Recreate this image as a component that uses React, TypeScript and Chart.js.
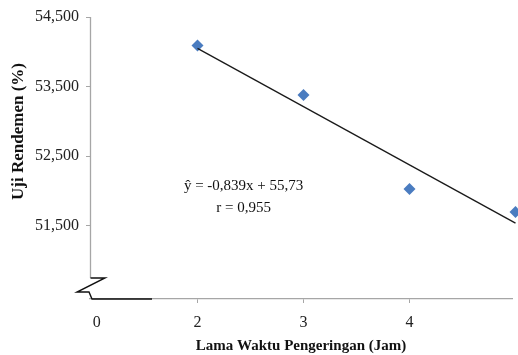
import React, { useEffect, useRef } from "react";
import { Chart, registerables } from "chart.js";

Chart.register(...registerables);

// ---- data ----
const dryingHours = [2, 3, 4, 5];
const yieldValues = [54.09, 53.38, 52.03, 51.7];
const trendHours = [2, 5];
const trendValues = [54.05, 51.54];
const xTickLabels = ["0", "2", "3", "4", "5"];
const xTickValues = [1.05, 2, 3, 4, 5]; // "0" sits just after the axis break
const yTickValues = [51.5, 52.5, 53.5, 54.5];
const equationText = "\u0177 = -0,839x + 55,73";
const rText = "r = 0,955";
const xTitle = "Lama Waktu Pengeringan (Jam)";
const yTitle = "Uji Rendemen (%)";

const SERIF = "'Liberation Serif', 'Times New Roman', serif";
const AXIS_GRAY = "#a6a6a6";

const decorPlugin = {
  id: "decor",
  afterDraw(chart: any) {
    const { ctx, chartArea, scales } = chart;
    const left = chartArea.left;
    const top = chartArea.top;
    const bottom = chartArea.bottom;
    ctx.save();
    // y axis line (broken at the bottom)
    ctx.strokeStyle = AXIS_GRAY;
    ctx.lineWidth = 1.3;
    ctx.beginPath();
    ctx.moveTo(left + 0.5, top);
    ctx.lineTo(left + 0.5, bottom - 21);
    ctx.stroke();
    // break symbol
    ctx.strokeStyle = "#111";
    ctx.lineWidth = 1.4;
    ctx.beginPath();
    ctx.moveTo(left + 0.5, bottom - 21);
    ctx.lineTo(left + 15, bottom - 21);
    ctx.lineTo(left - 13, bottom - 7);
    ctx.lineTo(left - 1, bottom - 7);
    ctx.lineTo(left + 2, bottom);
    ctx.lineTo(left + 62, bottom);
    ctx.stroke();

    // equation annotation
    const xs = scales.x;
    const ys = scales.y;
    ctx.fillStyle = "#111";
    ctx.font = `15px ${SERIF}`;
    ctx.textAlign = "center";
    ctx.textBaseline = "middle";
    const ex = xs.getPixelForValue(2.435);
    ctx.fillText(equationText, ex, ys.getPixelForValue(52.065));
    ctx.fillText(rText, ex, ys.getPixelForValue(51.763));

    // y title
    ctx.save();
    ctx.translate(19, 131.5);
    ctx.rotate(-Math.PI / 2);
    ctx.font = `bold 17px ${SERIF}`;
    ctx.fillText(yTitle, 0, 0);
    ctx.restore();
    ctx.restore();
  },
};

export default function App() {
  const canvasRef = useRef<HTMLCanvasElement | null>(null);

  useEffect(() => {
    document.body.style.margin = "0";
    const canvas = canvasRef.current;
    if (!canvas) return;
    const chart = new Chart(canvas, {
      type: "scatter",
      data: {
        datasets: [
          {
            label: "Trend",
            data: trendHours.map((x, i) => ({ x, y: trendValues[i] })),
            showLine: true,
            borderColor: "#1a1a1a",
            borderWidth: 1.3,
            pointRadius: 0,
            clip: false as any,
            order: 0,
          },
          {
            label: "Rendemen",
            data: dryingHours.map((x, i) => ({ x, y: yieldValues[i] })),
            showLine: false,
            pointStyle: "rectRot",
            pointRadius: 6,
            backgroundColor: "#4a7cc0",
            borderColor: "#4a7cc0",
            borderWidth: 0,
            clip: false as any,
            order: 1,
          },
        ],
      },
      options: {
        animation: false,
        responsive: false,
        events: [],
        layout: { padding: { top: 17, left: 0, right: 0, bottom: 0 } },
        plugins: {
          legend: { display: false },
          tooltip: { enabled: false },
        },
        scales: {
          x: {
            type: "linear",
            min: 0.986,
            max: 4.967,
            afterBuildTicks: (s: any) => {
              s.ticks = xTickValues
                .filter((v) => v >= s.min && v <= s.max)
                .map((v) => ({ value: v }));
            },
            afterFit: (s: any) => {
              s.height = 56;
            },
            ticks: {
              autoSkip: false,
              maxRotation: 0,
              padding: 10,
              color: "#222",
              font: { family: SERIF, size: 16 },
              callback: (v: any) => {
                const i = xTickValues.indexOf(Number(v));
                return i >= 0 ? xTickLabels[i] : "";
              },
            },
            grid: {
              drawOnChartArea: false,
              drawTicks: true,
              tickLength: 4,
              color: (c: any) =>
                c.tick && c.tick.value === xTickValues[0] ? "rgba(0,0,0,0)" : AXIS_GRAY,
            },
            border: { display: true, color: AXIS_GRAY, width: 1.3 },
            title: {
              display: true,
              text: xTitle,
              color: "#111",
              font: { family: SERIF, size: 15, weight: "bold" },
              padding: { top: 0, bottom: 0 },
            },
          },
          y: {
            type: "linear",
            min: 50.45,
            max: 54.5,
            afterBuildTicks: (s: any) => {
              s.ticks = yTickValues.map((v) => ({ value: v }));
            },
            afterFit: (s: any) => {
              s.width = 90;
            },
            ticks: {
              padding: 7,
              color: "#222",
              font: { family: SERIF, size: 16 },
              callback: (v: any) => Number(v).toFixed(3).replace(".", ","),
            },
            grid: {
              drawOnChartArea: false,
              drawTicks: true,
              tickLength: 4,
              color: AXIS_GRAY,
            },
            border: { display: false },
          },
        },
      },
      plugins: [decorPlugin],
    });
    return () => chart.destroy();
  }, []);

  return (
    <div style={{ width: 518, height: 355, background: "#fff" }}>
      <canvas ref={canvasRef} width={518} height={355} style={{ display: "block" }} />
    </div>
  );
}
